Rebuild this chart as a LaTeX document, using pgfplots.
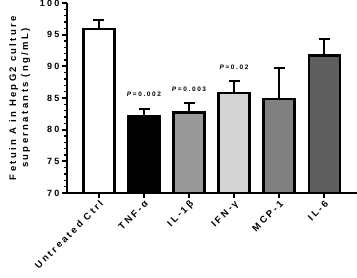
\documentclass[border=0pt]{standalone}
\usepackage{fontspec}
\setmainfont{Liberation Sans}[LetterSpace=25]
\usepackage{pgfplots}
\pgfplotsset{compat=1.18}
\begin{document}
\begin{tikzpicture}
\begin{axis}[
  at={(0,0)}, anchor=south west,
  scale only axis, width=290pt, height=190pt,
  xmin=-0.71, xmax=5.73, ymin=70, ymax=100,
  axis lines*=left,
  axis line style={line width=2.5pt},
  axis on top,
  xtick={0,1,2,3,4,5},
  xticklabels={Untreated Ctrl, TNF-α, IL-1β, IFN-γ, MCP-1, IL-6},
  ytick={70,75,80,85,90,95,100},
  minor y tick num=4,
  tick align=outside,
  major tick length=5pt,
  minor tick length=3pt,
  every tick/.style={black, line width=2pt},
  minor tick style={line width=1.5pt},
  /pgf/number format/assume math mode=true,
  yticklabel style={font=\bfseries\fontsize{9}{10}\selectfont, xshift=1pt},
  xticklabel style={font=\bfseries\fontsize{9.5}{10}\selectfont, rotate=45, anchor=north east, inner sep=1pt},
  ylabel={Fetuin A in HepG2 culture\\supernatants (ng/mL)},
  ylabel style={align=center, font=\bfseries\fontsize{9.5}{12}\selectfont, yshift=3pt},
  every axis plot/.append style={ybar, bar width=31pt, bar shift=0pt, draw=black, line width=2.2pt,
    error bars/y dir=plus, error bars/y explicit,
    error bars/error bar style={line width=2pt, black},
    error bars/error mark options={rotate=90, line width=2pt, mark size=5.5pt, black}},
]
\addplot[fill=white] coordinates {(0,95.9) +- (0,1.4)};
\addplot[fill=black] coordinates {(1,82.2) +- (0,1.1)};
\addplot[fill=black!40] coordinates {(2,82.7) +- (0,1.5)};
\addplot[fill=black!17] coordinates {(3,85.8) +- (0,1.9)};
\addplot[fill=black!50] coordinates {(4,84.8) +- (0,5.0)};
\addplot[fill=black!63] coordinates {(5,91.7) +- (0,2.6)};
\node[font=\bfseries\fontsize{6.5}{7}\selectfont] at (axis cs:1,85.6) {\textit{P}=0.002};
\node[font=\bfseries\fontsize{6.5}{7}\selectfont] at (axis cs:2,86.4) {\textit{P}=0.003};
\node[font=\bfseries\fontsize{6.5}{7}\selectfont] at (axis cs:3,89.9) {\textit{P}=0.02};
\end{axis}
\pgfresetboundingbox
\path[use as bounding box] (-67pt,-84pt) rectangle (290pt,193pt);
\end{tikzpicture}
\end{document}
